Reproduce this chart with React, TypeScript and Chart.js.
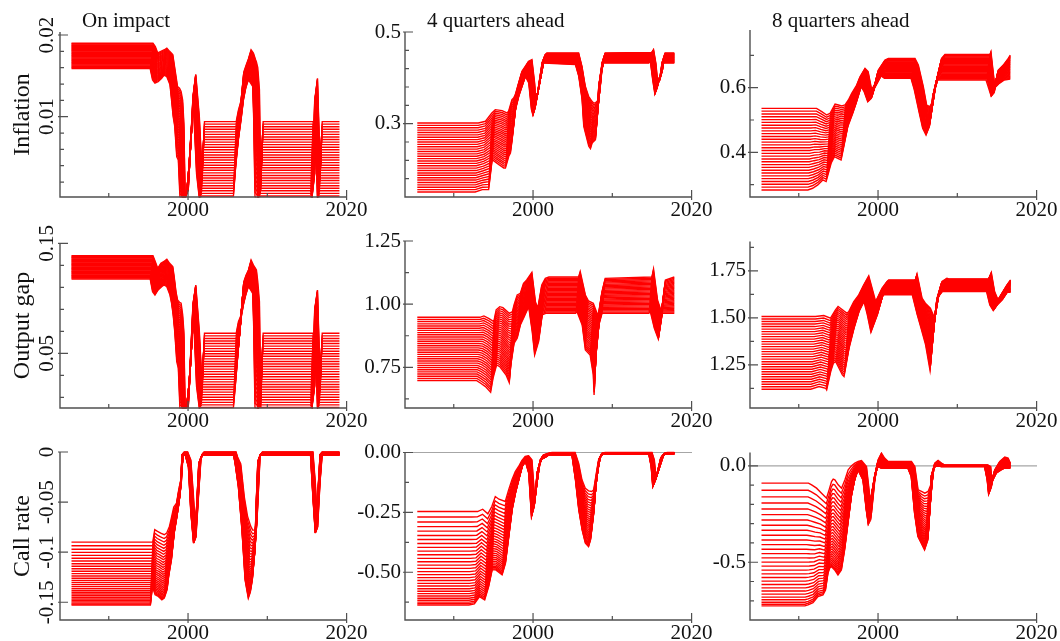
import { useEffect, useRef } from "react";
import { Chart, registerables } from "chart.js";

Chart.register(...registerables);

const W = 1060;
const H = 641;
const SERIF = "'Liberation Serif', 'DejaVu Serif', serif";
const RED = "#ff0000";

const X_MIN = 1983.85;
const X_MAX = 2020.05;
const X_TICKS = [1990, 2000, 2010, 2020];
const X_LABELS = [2000, 2020];

const ROW_TITLES = ["Inflation", "Output gap", "Call rate"];
const COL_TITLES = ["On impact", "4 quarters ahead", "8 quarters ahead"];

// relative position of each of the 30 fan lines inside the band (0 = upper edge, 1 = lower edge)
const FAN_EVEN = [0, 0.0345, 0.069, 0.1034, 0.1379, 0.1724, 0.2069, 0.2414, 0.2759, 0.3103, 0.3448, 0.3793, 0.4138, 0.4483, 0.4828, 0.5172, 0.5517, 0.5862, 0.6207, 0.6552, 0.6897, 0.7241, 0.7586, 0.7931, 0.8276, 0.8621, 0.8966, 0.931, 0.9655, 1];
const FAN_SKEW = [0, 0.058, 0.112, 0.162, 0.21, 0.256, 0.3, 0.343, 0.384, 0.424, 0.463, 0.501, 0.538, 0.574, 0.609, 0.643, 0.676, 0.708, 0.739, 0.769, 0.798, 0.826, 0.853, 0.879, 0.904, 0.928, 0.95, 0.97, 0.986, 1];

// ---------- Inflation, on impact ----------
const T_INF_H0 = [1985.3, 1995.4, 1995.7, 1996.0, 1996.4, 1996.85, 1997.15, 1997.5, 1997.9, 1998.1, 1998.3, 1998.5, 1998.75, 1998.95, 1999.15, 1999.3, 1999.45, 1999.8, 2000.2, 2000.8, 2001.25, 2001.6, 2001.9, 2005.9, 2006.18, 2006.52, 2006.86, 2007.15, 2007.45, 2007.78, 2008.07, 2008.33, 2008.45, 2008.62, 2008.83, 2008.98, 2009.3, 2015.6, 2015.8, 2016.15, 2016.5, 2016.75, 2019.1];
const HI_INF_H0 = [0.019, 0.019, 0.0186, 0.0178, 0.018, 0.0182, 0.0184, 0.018, 0.0176, 0.0163, 0.015, 0.0137, 0.0135, 0.0131, 0.012, 0.0092, 0.0006, 0.001, 0.008, 0.0152, 0.01, 0.003, 0.0094, 0.0094, 0.0108, 0.012, 0.0155, 0.0163, 0.0171, 0.0182, 0.0178, 0.017, 0.0167, 0.016, 0.0133, 0.001, 0.0094, 0.0094, 0.003, 0.0147, 0.003, 0.0094, 0.0094];
const LO_INF_H0 = [0.0159, 0.0159, 0.0145, 0.0141, 0.0143, 0.0147, 0.0151, 0.0149, 0.0139, 0.012, 0.01, 0.0088, 0.0051, 0.0047, 0.0002, 0, 0, 0, 0.001, 0.0125, 0.003, 0, 0.0003, 0.0003, 0.0039, 0.0072, 0.0096, 0.012, 0.0135, 0.0145, 0.0141, 0.0137, 0.01, 0.0002, 0, 0, 0.0003, 0.0003, 0, 0.012, 0, 0.0003, 0.0003];

// ---------- Inflation, 4 quarters ahead ----------
const T_INF_H4 = [1985.4, 1992.9, 1993.8, 1994.6, 1995.04, 1995.9, 1996.5, 1996.72, 1997.14, 1997.35, 1997.56, 1997.98, 1998.4, 1998.82, 1999.24, 1999.66, 2000.0, 2000.17, 2000.71, 2001.34, 2001.55, 2005.55, 2005.97, 2006.39, 2006.6, 2006.81, 2007.23, 2007.44, 2007.65, 2008.07, 2008.28, 2008.49, 2008.91, 2014.79, 2015.0, 2015.29, 2015.55, 2015.84, 2016.13, 2016.47, 2017.82];
const HI_INF_H4 = [0.3015, 0.3015, 0.3052, 0.3233, 0.3306, 0.3284, 0.3233, 0.327, 0.3524, 0.356, 0.3633, 0.3888, 0.4142, 0.4251, 0.436, 0.4397, 0.3888, 0.3451, 0.396, 0.4506, 0.4542, 0.4542, 0.4251, 0.3815, 0.3706, 0.3597, 0.3488, 0.3451, 0.3451, 0.3524, 0.3815, 0.4178, 0.4542, 0.4556, 0.4615, 0.4324, 0.3851, 0.4033, 0.4178, 0.4542, 0.4542];
const LO_INF_H4 = [0.151, 0.151, 0.1561, 0.1561, 0.2215, 0.2106, 0.2034, 0.2034, 0.2288, 0.2361, 0.2652, 0.3306, 0.3597, 0.3815, 0.4033, 0.3888, 0.3306, 0.3197, 0.3597, 0.4324, 0.4324, 0.4288, 0.4033, 0.3524, 0.2942, 0.2797, 0.2506, 0.2455, 0.2579, 0.2652, 0.3306, 0.3815, 0.4324, 0.4324, 0.436, 0.396, 0.367, 0.3888, 0.3924, 0.4324, 0.4324];

// ---------- Inflation, 8 quarters ahead ----------
const T_INF_H8 = [1985.3, 1991.4, 1992.0, 1992.65, 1993.28, 1993.7, 1994.33, 1994.75, 1995.17, 1995.59, 1996.01, 1996.43, 1997.06, 1997.48, 1998.11, 1998.5, 1998.95, 1999.4, 1999.79, 2000.63, 2001.05, 2004.41, 2004.83, 2005.46, 2005.88, 2006.3, 2006.72, 2007.14, 2007.77, 2008.19, 2013.87, 2013.99, 2014.5, 2014.92, 2015.55, 2016.18, 2016.68];
const HI_INF_H8 = [0.5361, 0.5361, 0.5361, 0.5258, 0.5155, 0.5206, 0.5495, 0.5464, 0.5433, 0.5464, 0.5619, 0.5825, 0.6082, 0.634, 0.6598, 0.6495, 0.5928, 0.6134, 0.6546, 0.6856, 0.6907, 0.6907, 0.6701, 0.6031, 0.5464, 0.5412, 0.5619, 0.6237, 0.6907, 0.7031, 0.7031, 0.7113, 0.5979, 0.6546, 0.6701, 0.6907, 0.701];
const LO_INF_H8 = [0.2835, 0.2835, 0.2887, 0.299, 0.3144, 0.3093, 0.366, 0.3866, 0.3814, 0.3763, 0.4278, 0.4794, 0.5206, 0.5515, 0.6031, 0.5876, 0.5567, 0.567, 0.5979, 0.6361, 0.6289, 0.6289, 0.5928, 0.5206, 0.4742, 0.4536, 0.4794, 0.5722, 0.6237, 0.6237, 0.6237, 0.6237, 0.5753, 0.5979, 0.6134, 0.6237, 0.6268];

// ---------- Output gap, on impact ----------
const T_GAP_H0 = [1985.3, 1995.4, 1995.7, 1996.0, 1996.4, 1996.85, 1997.15, 1997.5, 1997.9, 1998.1, 1998.3, 1998.5, 1998.75, 1998.95, 1999.15, 1999.3, 1999.45, 1999.8, 2000.2, 2000.8, 2001.25, 2001.6, 2001.9, 2005.9, 2006.18, 2006.52, 2006.86, 2007.15, 2007.45, 2007.78, 2008.07, 2008.33, 2008.45, 2008.62, 2008.83, 2008.98, 2009.3, 2015.6, 2015.8, 2016.15, 2016.5, 2016.75, 2019.1];
const HI_GAP_H0 = [0.1388, 0.1388, 0.1333, 0.1273, 0.1318, 0.1339, 0.1355, 0.1318, 0.1288, 0.1182, 0.1061, 0.0985, 0.0964, 0.0955, 0.0849, 0.0697, 0.001, 0.0015, 0.05, 0.1121, 0.07, 0.02, 0.0682, 0.0682, 0.0788, 0.0849, 0.1152, 0.1212, 0.1258, 0.1348, 0.1303, 0.1273, 0.1258, 0.1152, 0.097, 0.001, 0.0682, 0.0682, 0.02, 0.1076, 0.02, 0.0682, 0.0682];
const LO_GAP_H0 = [0.1176, 0.1176, 0.1061, 0.103, 0.1076, 0.1106, 0.1121, 0.1106, 0.103, 0.0955, 0.0849, 0.0697, 0.0424, 0.0364, 0, 0, 0, 0, 0.001, 0.095, 0.02, 0, 0.0008, 0.0008, 0.0242, 0.0546, 0.0818, 0.0939, 0.103, 0.1106, 0.1076, 0.1045, 0.0758, 0.0005, 0, 0, 0.0008, 0.0008, 0, 0.09, 0, 0.0008, 0.0008];

// ---------- Output gap, 4 quarters ahead ----------
const T_GAP_H4 = [1985.4, 1993.1, 1993.6, 1994.2, 1994.85, 1995.15, 1995.6, 1996.0, 1996.8, 1997.2, 1997.4, 1997.8, 1998.2, 1998.6, 1999.0, 1999.65, 2000.1, 2000.4, 2000.9, 2001.35, 2001.8, 2005.55, 2005.75, 2006.4, 2006.8, 2007.4, 2007.8, 2007.9, 2008.1, 2008.5, 2008.9, 2014.8, 2015.0, 2015.5, 2016.0, 2016.5, 2017.82];
const HI_GAP_H4 = [0.948, 0.948, 0.9533, 0.944, 0.9308, 0.977, 0.99, 0.986, 0.9638, 0.97, 0.9967, 1.0363, 1.0429, 1.0825, 1.0957, 1.126, 1.01, 0.9836, 1.0759, 1.1023, 1.1075, 1.1075, 1.1287, 1.0363, 1.0126, 1.0033, 0.97, 0.9572, 0.97, 1.0495, 1.1023, 1.1075, 1.139, 1.0165, 0.97, 1.0957, 1.1075];
const LO_GAP_H4 = [0.6974, 0.6974, 0.6868, 0.6736, 0.6512, 0.7066, 0.7593, 0.7527, 0.7198, 0.6894, 0.7593, 0.8451, 0.8649, 0.9176, 0.944, 0.99, 0.8912, 0.7989, 0.8517, 0.9572, 0.9638, 0.9638, 0.97, 0.9176, 0.8187, 0.7989, 0.7198, 0.6406, 0.7857, 0.9176, 0.9638, 0.9638, 0.97, 0.9044, 0.8622, 0.9638, 0.9638];

// ---------- Output gap, 8 quarters ahead ----------
const T_GAP_H8 = [1985.3, 1991.8, 1992.86, 1993.7, 1993.82, 1994.33, 1994.66, 1994.96, 1995.38, 1995.8, 1996.01, 1996.64, 1997.27, 1997.9, 1998.53, 1998.95, 1999.4, 2000.21, 2000.84, 2001.05, 2004.41, 2004.62, 2005.25, 2005.67, 2006.3, 2006.85, 2007.14, 2007.77, 2008.4, 2008.61, 2013.66, 2013.99, 2014.4, 2014.83, 2015.34, 2015.97, 2016.6, 2016.72];
const HI_GAP_H8 = [1.5071, 1.5071, 1.5124, 1.4982, 1.5071, 1.5426, 1.5603, 1.5514, 1.5372, 1.5248, 1.5337, 1.5869, 1.6223, 1.6755, 1.7234, 1.6578, 1.5869, 1.6578, 1.6933, 1.7021, 1.7021, 1.7323, 1.6046, 1.578, 1.5514, 1.4982, 1.6046, 1.6933, 1.711, 1.7074, 1.7074, 1.7411, 1.6401, 1.5957, 1.6312, 1.6755, 1.7021, 1.7021];
const LO_GAP_H8 = [1.1206, 1.1206, 1.1348, 1.1259, 1.117, 1.2146, 1.2589, 1.2677, 1.2323, 1.1968, 1.188, 1.3387, 1.445, 1.5337, 1.5869, 1.516, 1.4238, 1.516, 1.6135, 1.6223, 1.6223, 1.6223, 1.516, 1.4539, 1.3564, 1.2234, 1.3919, 1.6046, 1.6401, 1.6401, 1.6401, 1.6401, 1.5692, 1.539, 1.5692, 1.5957, 1.6365, 1.6365];

// ---------- Call rate, on impact ----------
const T_RATE_H0 = [1985.3, 1995.4, 1995.65, 1996.0, 1996.4, 1996.85, 1997.15, 1997.5, 1997.7, 1998.05, 1998.4, 1998.75, 1999.0, 1999.2, 1999.4, 1999.8, 2000.2, 2000.5, 2000.85, 2001.2, 2001.5, 2001.9, 2005.9, 2006.1, 2006.5, 2006.95, 2007.35, 2007.75, 2008.0, 2008.25, 2008.55, 2008.75, 2008.95, 2009.25, 2015.6, 2015.9, 2016.2, 2016.5, 2016.8, 2019.1];
const HI_RATE_H0 = [-0.09, -0.09, -0.0776, -0.0793, -0.081, -0.0826, -0.081, -0.0743, -0.0676, -0.055, -0.051, -0.0343, -0.031, -0.0043, 0, 0, -0.008, -0.04, -0.085, -0.04, -0.005, 0, 0, -0.005, -0.012, -0.045, -0.064, -0.074, -0.078, -0.078, -0.068, -0.035, -0.003, 0, 0, -0.03, -0.075, -0.03, 0, 0];
const LO_RATE_H0 = [-0.1527, -0.1527, -0.1342, -0.1425, -0.1442, -0.1475, -0.1459, -0.1375, -0.1242, -0.1076, -0.0809, -0.0643, -0.051, -0.031, -0.003, -0.003, -0.015, -0.06, -0.091, -0.06, -0.012, -0.003, -0.003, -0.012, -0.035, -0.078, -0.128, -0.146, -0.14, -0.128, -0.101, -0.051, -0.01, -0.003, -0.003, -0.045, -0.081, -0.045, -0.003, -0.003];

// ---------- Call rate, 4 quarters ahead ----------
const T_RATE_H4 = [1985.4, 1992.1, 1992.8, 1993.45, 1994.1, 1994.6, 1995.04, 1995.5, 1996.3, 1996.72, 1997.14, 1997.56, 1997.98, 1998.4, 1998.82, 1999.24, 1999.66, 2000.0, 2000.34, 2000.71, 2001.13, 2001.76, 2002.2, 2005.1, 2005.55, 2005.97, 2006.39, 2006.8, 2007.2, 2007.45, 2007.85, 2008.07, 2008.49, 2008.9, 2014.8, 2015.1, 2015.3, 2015.65, 2016.3, 2016.7, 2017.82];
const HI_RATE_H4 = [-0.2465, -0.2465, -0.2465, -0.2368, -0.2563, -0.2256, -0.1838, -0.195, -0.2047, -0.156, -0.1142, -0.0794, -0.0585, -0.0334, -0.0167, -0.0139, -0.0306, -0.1838, -0.1142, -0.0376, -0.0097, -0.0028, 0, 0, -0.0446, -0.1142, -0.149, -0.1602, -0.163, -0.156, -0.0724, -0.0306, -0.0028, 0, 0, -0.0306, -0.1003, -0.0724, -0.0097, 0, 0];
const LO_RATE_H4 = [-0.6365, -0.6365, -0.6323, -0.6017, -0.6156, -0.5599, -0.4903, -0.4903, -0.5112, -0.4624, -0.351, -0.2396, -0.1699, -0.1142, -0.0585, -0.0376, -0.0864, -0.2674, -0.2256, -0.0864, -0.0306, -0.0195, -0.0097, -0.0097, -0.1142, -0.2396, -0.3231, -0.3788, -0.3928, -0.3649, -0.2535, -0.156, -0.0306, -0.0056, -0.0056, -0.0585, -0.1421, -0.1142, -0.0237, -0.0056, -0.0056];

// ---------- Call rate, 8 quarters ahead ----------
const T_RATE_H8 = [1985.3, 1991.0, 1991.4, 1992.02, 1992.65, 1993.28, 1993.6, 1993.91, 1994.12, 1994.33, 1994.75, 1995.17, 1995.6, 1996.01, 1996.43, 1996.85, 1997.27, 1997.69, 1998.32, 1998.74, 1998.95, 1999.37, 1999.79, 2000.21, 2000.6, 2001.05, 2003.99, 2004.41, 2004.83, 2005.25, 2005.67, 2006.09, 2006.51, 2006.93, 2007.35, 2007.77, 2008.19, 2013.66, 2013.99, 2014.16, 2014.5, 2015.13, 2015.76, 2016.18, 2016.68];
const HI_RATE_H8 = [-0.09, -0.09, -0.0986, -0.1159, -0.1419, -0.1678, -0.1246, -0.0813, -0.0692, -0.0727, -0.0986, -0.1159, -0.0727, -0.0208, 0, 0.0138, 0.0225, 0.0277, -0.0035, -0.1592, -0.2457, -0.0727, 0.0311, 0.0657, 0.0398, 0.0225, 0.0225, -0.0035, -0.1246, -0.1332, -0.1419, -0.1332, -0.09, 0.0138, 0.0277, 0.0138, 0.0035, 0.0035, -0.0035, -0.09, -0.0208, 0.0225, 0.045, 0.0398, 0.0138];
const LO_RATE_H8 = [-0.7266, -0.7266, -0.7214, -0.7093, -0.6782, -0.6695, -0.6436, -0.5571, -0.5311, -0.5225, -0.5398, -0.5657, -0.5398, -0.436, -0.2976, -0.1592, -0.0727, -0.0208, -0.0727, -0.2284, -0.2889, -0.1592, -0.0554, -0.0035, -0.0121, -0.0121, -0.0121, -0.0554, -0.2457, -0.3668, -0.4014, -0.436, -0.3841, -0.0554, -0.0035, 0, -0.0035, -0.0035, -0.0727, -0.1419, -0.09, -0.038, -0.0208, -0.0121, -0.0121];

// ---------- y ticks and tick labels ----------
const YT_INF_H0 = [0.002, 0.004, 0.006, 0.008, 0.01, 0.012, 0.014, 0.016, 0.018, 0.02];
const YL_INF_H0 = ["0.01", "0.02"];
const YT_INF_H4 = [0.18, 0.22, 0.26, 0.3, 0.34, 0.38, 0.42, 0.46, 0.5];
const YL_INF_H4 = ["0.3", "0.5"];
const YT_INF_H8 = [0.3, 0.4, 0.5, 0.6, 0.7];
const YL_INF_H8 = ["0.4", "0.6"];
const YT_GAP_H0 = [0.01, 0.03, 0.05, 0.07, 0.09, 0.11, 0.13, 0.15];
const YL_GAP_H0 = ["0.05", "0.15"];
const YT_GAP_H4 = [0.625, 0.75, 0.875, 1.0, 1.125, 1.25];
const YL_GAP_H4 = ["0.75", "1.00", "1.25"];
const YT_GAP_H8 = [1.125, 1.25, 1.375, 1.5, 1.625, 1.75, 1.875];
const YL_GAP_H8 = ["1.25", "1.50", "1.75"];
const YT_RATE_H0 = [0, -0.05, -0.1, -0.15];
const YL_RATE_H0 = ["0", "-0.05", "-0.1", "-0.15"];
const YT_RATE_H4 = [0, -0.125, -0.25, -0.375, -0.5, -0.625];
const YL_RATE_H4 = ["0.00", "-0.25", "-0.50"];
const YT_RATE_H8 = [0, -0.1, -0.2, -0.3, -0.4, -0.5, -0.6, -0.7];
const YL_RATE_H8 = ["0.0", "-0.5"];

type Panel = {
  t: number[];
  hi: number[];
  lo: number[];
  pos: number[];
  stagger: number;
  area: number[];
  yMin: number;
  yMax: number;
  yTicks: number[];
  labels: string[];
  rotate: boolean;
  colTitle?: string;
  rowTitle?: string;
  zero: boolean;
  clipTop: number;
};

const PANELS: Panel[] = [
  { t: T_INF_H0, hi: HI_INF_H0, lo: LO_INF_H0, pos: FAN_EVEN, stagger: 0.35, area: [60, 32, 347, 197], yMin: 0.00017, yMax: 0.02037, yTicks: YT_INF_H0, labels: YL_INF_H0, rotate: true, colTitle: COL_TITLES[0], rowTitle: ROW_TITLES[0], zero: false, clipTop: 0.5 },
  { t: T_INF_H4, hi: HI_INF_H4, lo: LO_INF_H4, pos: FAN_EVEN, stagger: 0.4, area: [405, 32, 692, 197], yMin: 0.14, yMax: 0.5, yTicks: YT_INF_H4, labels: YL_INF_H4, rotate: false, colTitle: COL_TITLES[1], zero: false, clipTop: 0.5 },
  { t: T_INF_H8, hi: HI_INF_H8, lo: LO_INF_H8, pos: FAN_EVEN, stagger: 0.5, area: [750, 30, 1037, 197], yMin: 0.2616, yMax: 0.7786, yTicks: YT_INF_H8, labels: YL_INF_H8, rotate: false, colTitle: COL_TITLES[2], zero: false, clipTop: 0.5 },
  { t: T_GAP_H0, hi: HI_GAP_H0, lo: LO_GAP_H0, pos: FAN_EVEN, stagger: 0.35, area: [60, 243, 347, 408], yMin: 0.0003, yMax: 0.1503, yTicks: YT_GAP_H0, labels: YL_GAP_H0, rotate: true, rowTitle: ROW_TITLES[1], zero: false, clipTop: 0.5 },
  { t: T_GAP_H4, hi: HI_GAP_H4, lo: LO_GAP_H4, pos: FAN_EVEN, stagger: 0.4, area: [405, 241, 692, 408], yMin: 0.589, yMax: 1.25, yTicks: YT_GAP_H4, labels: YL_GAP_H4, rotate: false, zero: false, clipTop: 0.5 },
  { t: T_GAP_H8, hi: HI_GAP_H8, lo: LO_GAP_H8, pos: FAN_EVEN, stagger: 0.6, area: [750, 241.5, 1037, 408], yMin: 1.021, yMax: 1.906, yTicks: YT_GAP_H8, labels: YL_GAP_H8, rotate: false, zero: false, clipTop: 0.5 },
  { t: T_RATE_H0, hi: HI_RATE_H0, lo: LO_RATE_H0, pos: FAN_SKEW, stagger: 0.3, area: [60, 452, 347, 620], yMin: -0.1677, yMax: 0, yTicks: YT_RATE_H0, labels: YL_RATE_H0, rotate: true, rowTitle: ROW_TITLES[2], zero: false, clipTop: 3 },
  { t: T_RATE_H4, hi: HI_RATE_H4, lo: LO_RATE_H4, pos: FAN_SKEW, stagger: 0.4, area: [405, 452.5, 692, 620], yMin: -0.6994, yMax: 0, yTicks: YT_RATE_H4, labels: YL_RATE_H4, rotate: false, zero: true, clipTop: 3 },
  { t: T_RATE_H8, hi: HI_RATE_H8, lo: LO_RATE_H8, pos: FAN_SKEW, stagger: 0.45, area: [750, 452.5, 1037, 620], yMin: -0.7996, yMax: 0.069, yTicks: YT_RATE_H8, labels: YL_RATE_H8, rotate: false, zero: true, clipTop: 0.5 },
];

const framePlugin = {
  id: "frame",
  beforeDatasetsDraw(chart: any, _args: any, opts: any) {
    const p: Panel = opts.panel;
    if (!p || !p.zero) return;
    const { ctx, chartArea: a, scales } = chart;
    const y = scales.y.getPixelForValue(0);
    ctx.save();
    ctx.strokeStyle = "#a6a6a6";
    ctx.lineWidth = 1.2;
    ctx.beginPath();
    ctx.moveTo(a.left, y);
    ctx.lineTo(a.right, y);
    ctx.stroke();
    ctx.restore();
  },
  afterDraw(chart: any, _args: any, opts: any) {
    const p: Panel = opts.panel;
    if (!p) return;
    const { ctx, chartArea: a, scales } = chart;
    const xs = scales.x;
    const ys = scales.y;
    ctx.save();
    ctx.strokeStyle = "#505050";
    ctx.lineWidth = 1.4;
    ctx.beginPath();
    ctx.moveTo(a.left, a.top);
    ctx.lineTo(a.left, a.bottom);
    ctx.lineTo(a.right, a.bottom);
    ctx.stroke();

    const majors = p.labels.map(Number);
    ctx.lineWidth = 1.2;
    ctx.beginPath();
    for (const v of p.yTicks) {
      const y = ys.getPixelForValue(v);
      const major = majors.some((m) => Math.abs(m - v) < 1e-9);
      ctx.moveTo(a.left - (major ? 2 : 0), y);
      ctx.lineTo(a.left + (major ? 8 : 4), y);
    }
    for (const v of X_TICKS) {
      const x = xs.getPixelForValue(v);
      const major = X_LABELS.includes(v);
      ctx.moveTo(x, a.bottom + (major ? 3 : 0));
      ctx.lineTo(x, a.bottom - (major ? 7 : 4));
    }
    ctx.stroke();

    ctx.fillStyle = "#111";
    ctx.font = `21px ${SERIF}`;
    ctx.textAlign = "center";
    ctx.textBaseline = "alphabetic";
    for (const v of X_LABELS) {
      ctx.fillText(String(v), xs.getPixelForValue(v), a.bottom + 19);
    }
    for (const s of p.labels) {
      const y = ys.getPixelForValue(Number(s));
      if (p.rotate) {
        ctx.save();
        ctx.translate(a.left - 7, y);
        ctx.rotate(-Math.PI / 2);
        ctx.textAlign = "center";
        ctx.textBaseline = "alphabetic";
        ctx.fillText(s, 0, 0);
        ctx.restore();
      } else {
        ctx.textAlign = "right";
        ctx.textBaseline = "middle";
        ctx.fillText(s, a.left - 4, y);
      }
    }
    if (p.colTitle) {
      ctx.textAlign = "left";
      ctx.textBaseline = "alphabetic";
      ctx.fillText(p.colTitle, a.left + 22, 27);
    }
    if (p.rowTitle) {
      ctx.save();
      ctx.font = `24px ${SERIF}`;
      ctx.translate(29, (a.top + a.bottom) / 2);
      ctx.rotate(-Math.PI / 2);
      ctx.textAlign = "center";
      ctx.textBaseline = "alphabetic";
      ctx.fillText(p.rowTitle, 0, 0);
      ctx.restore();
    }
    ctx.restore();
  },
};

function fanLine(panel: Panel, p: number) {
  const n = panel.t.length;
  const first = panel.t[0];
  const last = panel.t[n - 1];
  const shift = panel.stagger * (0.5 - p);
  return panel.t.map((x, i) => {
    const xx = i === 0 || i === n - 1 ? x : Math.min(last, Math.max(first, x + shift));
    return { x: xx, y: panel.hi[i] - (panel.hi[i] - panel.lo[i]) * p };
  });
}

function PanelChart({ panel }: { panel: Panel }) {
  const ref = useRef<HTMLCanvasElement>(null);
  useEffect(() => {
    const canvas = ref.current;
    if (!canvas) return;
    const datasets = panel.pos.map((p) => ({
      data: fanLine(panel, p),
      borderColor: RED,
      backgroundColor: RED,
      borderWidth: 1.4,
      pointRadius: 0,
      fill: false,
      tension: 0,
      clip: { left: 0.5, right: 0.5, top: panel.clipTop, bottom: 0.5 },
    }));
    const [l, t, r, b] = panel.area;
    const chart = new Chart(canvas, {
      type: "line",
      data: { datasets },
      options: {
        animation: false,
        responsive: false,
        devicePixelRatio: 1,
        events: [],
        layout: { padding: { left: l, top: t, right: W - r, bottom: H - b } },
        scales: {
          x: { type: "linear", min: X_MIN, max: X_MAX, display: false },
          y: { type: "linear", min: panel.yMin, max: panel.yMax, display: false },
        },
        plugins: {
          legend: { display: false },
          tooltip: { enabled: false },
          frame: { panel },
        } as any,
      },
      plugins: [framePlugin],
    } as any);
    return () => chart.destroy();
  }, [panel]);
  return (
    <canvas
      ref={ref}
      width={W}
      height={H}
      style={{ position: "absolute", left: 0, top: 0, width: W, height: H }}
    />
  );
}

export default function App() {
  return (
    <div style={{ position: "absolute", left: 0, top: 0, width: W, height: H, background: "#fff" }}>
      {PANELS.map((p, i) => (
        <PanelChart key={i} panel={p} />
      ))}
    </div>
  );
}
